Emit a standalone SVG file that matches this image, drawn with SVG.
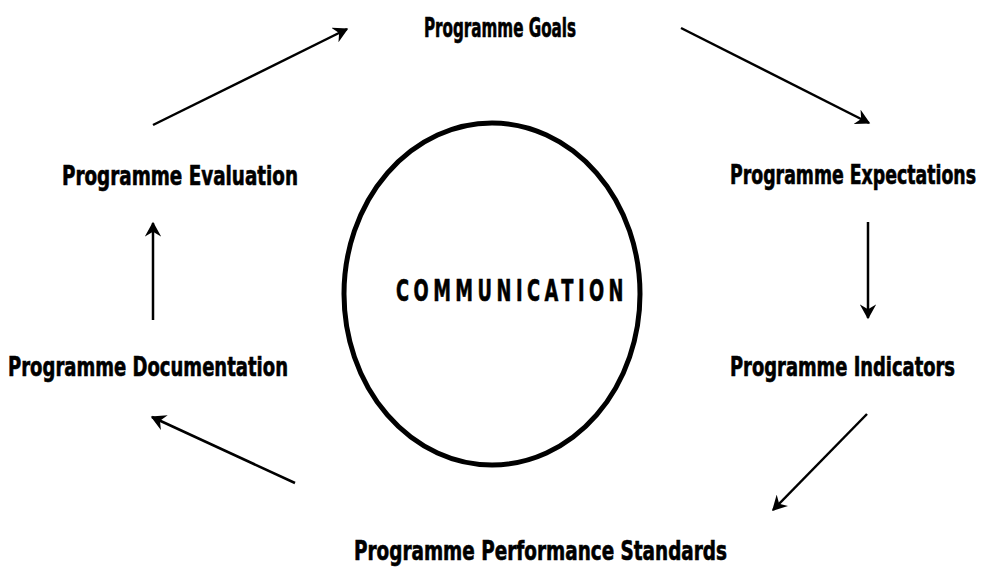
<svg xmlns="http://www.w3.org/2000/svg" width="987" height="576" viewBox="0 0 987 576">
<defs>
<style>
.lbl{font-family:"DejaVu Sans Condensed","DejaVu Sans","Liberation Sans",sans-serif;font-weight:bold;font-size:26px;fill:#000;stroke:#000;stroke-width:0.6}
.ctr{font-family:"DejaVu Sans Condensed","DejaVu Sans","Liberation Sans",sans-serif;font-weight:bold;font-size:31px;letter-spacing:7px;fill:#000;stroke:#000;stroke-width:0.6}
.arr{stroke:#000;stroke-width:2.5;fill:none;marker-end:url(#ah)}
</style>
<marker id="ah" viewBox="0 0 12 12" refX="10" refY="6" markerWidth="6.5" markerHeight="6.5" orient="auto" markerUnits="strokeWidth">
<path d="M0,0 L11,6 L0,12 L3.5,6 Z" fill="#000"/>
</marker>
</defs>
<rect width="987" height="576" fill="#fff"/>
<g id="communication">
<ellipse cx="492" cy="294" rx="148" ry="171" fill="none" stroke="#000" stroke-width="5"/>
<text class="ctr" x="396" y="301" textLength="232" lengthAdjust="spacingAndGlyphs">COMMUNICATION</text>
</g>
<g id="goals"><text class="lbl" x="424" y="37" textLength="152" lengthAdjust="spacingAndGlyphs">Programme Goals</text></g>
<g id="expectations"><text class="lbl" x="730" y="184" textLength="246" lengthAdjust="spacingAndGlyphs">Programme Expectations</text></g>
<g id="indicators"><text class="lbl" x="730" y="376" textLength="225" lengthAdjust="spacingAndGlyphs">Programme Indicators</text></g>
<g id="standards"><text class="lbl" x="354" y="560" textLength="373" lengthAdjust="spacingAndGlyphs">Programme Performance Standards</text></g>
<g id="documentation"><text class="lbl" x="8" y="376" textLength="280" lengthAdjust="spacingAndGlyphs">Programme Documentation</text></g>
<g id="evaluation"><text class="lbl" x="62" y="185" textLength="236" lengthAdjust="spacingAndGlyphs">Programme Evaluation</text></g>
<g id="connectors">
<line class="arr" x1="153" y1="125" x2="347" y2="29"/>
<line class="arr" x1="681" y1="28" x2="869" y2="123"/>
<line class="arr" x1="868" y1="222" x2="868" y2="318"/>
<line class="arr" x1="867" y1="414" x2="773" y2="510"/>
<line class="arr" x1="295" y1="483" x2="152" y2="417"/>
<line class="arr" x1="153" y1="320" x2="153" y2="223"/>
</g>
</svg>
